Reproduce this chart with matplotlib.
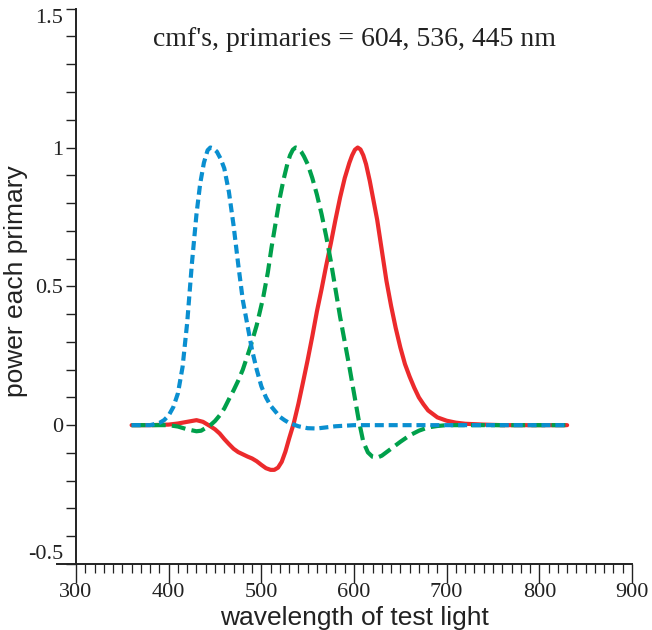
import matplotlib
matplotlib.use('Agg')
import matplotlib.pyplot as plt
from matplotlib.ticker import FixedLocator, MultipleLocator

# colour matching functions, primaries 604 / 536 / 445 nm
wl_red = [360, 380, 400, 410, 420, 430, 437, 445, 450, 455, 460, 465, 470, 475,
          480, 485, 490, 495, 500, 505, 510, 514, 518, 522, 526, 530, 535, 540,
          545, 550, 555, 560, 565, 570, 575, 580, 585, 590, 595, 598, 601, 604,
          607, 610, 613, 617, 621, 625, 630, 635, 640, 645, 650, 655, 660, 665,
          670, 675, 680, 690, 700, 710, 720, 740, 760, 830]
red_vals = [0, 0, 0.002, 0.006, 0.012, 0.018, 0.012, -0.004, -0.015, -0.03,
            -0.05, -0.068, -0.085, -0.097, -0.105, -0.113, -0.12, -0.13, -0.143,
            -0.155, -0.161, -0.161, -0.153, -0.132, -0.095, -0.048, 0.007, 0.077,
            0.155, 0.235, 0.32, 0.41, 0.49, 0.575, 0.655, 0.74, 0.82, 0.89, 0.945,
            0.972, 0.992, 1.0, 0.993, 0.972, 0.94, 0.88, 0.81, 0.74, 0.63, 0.52,
            0.43, 0.35, 0.28, 0.22, 0.175, 0.135, 0.10, 0.075, 0.053, 0.028,
            0.016, 0.009, 0.005, 0.002, 0, 0]

wl_green = [360, 400, 410, 420, 430, 435, 440, 445, 450, 455, 460, 466, 470, 475,
            480, 488, 495, 502, 507, 511, 516, 520, 524, 528, 531, 534, 537, 540,
            543, 546, 550, 555, 560, 565, 570, 575, 580, 585, 590, 595, 600, 605,
            610, 615, 620, 625, 630, 640, 650, 660, 670, 680, 690, 700, 830]
green_vals = [0, 0, -0.005, -0.015, -0.022, -0.02, -0.01, 0.0, 0.015, 0.035,
              0.06, 0.10, 0.125, 0.16, 0.20, 0.28, 0.36, 0.46, 0.55, 0.64, 0.74,
              0.82, 0.885, 0.94, 0.972, 0.992, 1.0, 0.997, 0.985, 0.968, 0.94,
              0.89, 0.83, 0.76, 0.68, 0.59, 0.49, 0.39, 0.30, 0.21, 0.115, 0.02,
              -0.06, -0.098, -0.114, -0.117, -0.11, -0.085, -0.06, -0.037, -0.02,
              -0.008, -0.003, 0, 0]

wl_blue = [360, 380, 390, 395, 400, 405, 410, 415, 420, 425, 430, 434, 438, 442,
           445, 448, 452, 456, 460, 465, 470, 475, 480, 485, 490, 495, 500, 505,
           510, 515, 520, 525, 530, 540, 550, 560, 570, 580, 600, 830]
blue_vals = [0, 0, 0.008, 0.018, 0.035, 0.065, 0.115, 0.21, 0.37, 0.58, 0.76,
             0.87, 0.945, 0.99, 1.0, 0.997, 0.985, 0.96, 0.925, 0.84, 0.72, 0.58,
             0.45, 0.36, 0.27, 0.20, 0.14, 0.10, 0.07, 0.05, 0.03, 0.018, 0.008,
             -0.004, -0.011, -0.012, -0.008, -0.004, 0, 0]

yticks = [-0.5, 0, 0.5, 1, 1.5]
ytick_labels = ['-0.5', '0', '0.5', '1', '1.5']
xticks = [300, 400, 500, 600, 700, 800, 900]

title = "cmf's, primaries = 604, 536, 445 nm"

serif = ['Liberation Serif', 'DejaVu Serif']
sans = ['Liberation Sans', 'DejaVu Sans']
plt.rcParams['lines.scale_dashes'] = False

fig = plt.figure(figsize=(6.52, 6.30), dpi=100)
ax = fig.add_axes([0.1166, 0.1048, 0.8527, 0.8814])

ax.plot(wl_red, red_vals, color='#ec2a2c', lw=3.0, solid_capstyle='round',
        solid_joinstyle='round')
ax.plot(wl_green, green_vals, color='#00a04b', lw=3.0, dashes=(10, 4.5))
ax.plot(wl_blue, blue_vals, color='#0a8fd0', lw=3.0, dashes=(6.5, 3.5))

ax.set_xlim(300, 900)
ax.set_ylim(-0.5, 1.5)

for s in ['top', 'right']:
    ax.spines[s].set_visible(False)
for s in ['left', 'bottom']:
    ax.spines[s].set_linewidth(1.4)
    ax.spines[s].set_color('#222222')
ax.spines['bottom'].set_bounds(279.5, 900)

ax.xaxis.set_major_locator(FixedLocator(xticks))
ax.xaxis.set_minor_locator(MultipleLocator(10))
ax.yaxis.set_major_locator(FixedLocator(yticks))
ax.yaxis.set_minor_locator(MultipleLocator(0.1))
ax.set_xticklabels([str(v) for v in xticks], family=serif, fontsize=16)
ax.set_yticklabels(ytick_labels, family=serif, fontsize=16)

ax.tick_params(axis='x', which='major', direction='out', length=13.7, width=1.0,
               pad=0, color='#222222', labelcolor='#222222')
ax.tick_params(axis='x', which='minor', direction='out', length=6.5, width=0.9,
               color='#222222')
ax.tick_params(axis='y', which='both', direction='out', length=7.2, width=1.0,
               pad=2.2, color='#222222', labelcolor='#222222')

# end labels sit inside the axis range in the reference
ylabs = ax.get_yticklabels()
ylabs[0].set_verticalalignment('bottom')
ylabs[-1].set_verticalalignment('top')

ax.set_xlabel('wavelength of test light', family=sans, fontsize=19,
              color='#222222', va='center')
ax.xaxis.set_label_coords(0.5, -0.097)
ax.set_ylabel('power each primary', family=sans, fontsize=19,
              color='#222222', va='center')
ax.yaxis.set_label_coords(-0.108, 0.51)

ax.text(0.5, 0.945, title, transform=ax.transAxes, ha='center', va='center',
        family=serif, fontsize=20, color='#222222')

fig.savefig('out.png', dpi=100)
